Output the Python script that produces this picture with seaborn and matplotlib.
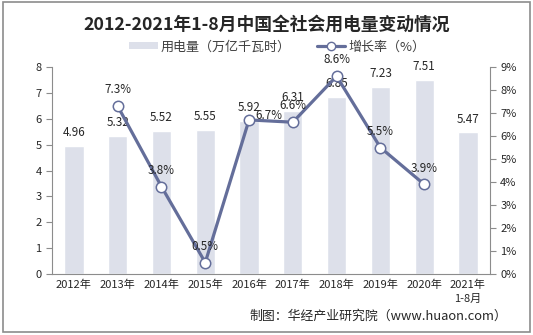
import matplotlib
matplotlib.use("Agg")
import matplotlib.pyplot as plt
import seaborn as sns
import pandas as pd
import numpy as np
from matplotlib.patches import Rectangle
from matplotlib.lines import Line2D

categories = ["2012年", "2013年", "2014年", "2015年", "2016年", "2017年",
              "2018年", "2019年", "2020年", "2021年\n1-8月"]
consumption = [4.96, 5.32, 5.52, 5.55, 5.92, 6.31, 6.85, 7.23, 7.51, 5.47]
growth_years = ["2013年", "2014年", "2015年", "2016年", "2017年", "2018年", "2019年", "2020年"]
growth = [7.3, 3.8, 0.5, 6.7, 6.6, 8.6, 5.5, 3.9]
left_ticks = [0, 1, 2, 3, 4, 5, 6, 7, 8]
right_ticks = [0, 1, 2, 3, 4, 5, 6, 7, 8, 9]

sns.set_style("white")
plt.rcParams['font.family'] = ['Noto Sans CJK SC', 'DejaVu Sans']

BAR = "#DDE0EA"
LINE = "#646E9A"
TXT = "#262626"
AX = "#8C8C8C"

fig = plt.figure(figsize=(5.33, 3.35), dpi=100)
ax = fig.add_axes([0.0976, 0.182, 0.8214, 0.618])

df = pd.DataFrame({"cat": categories, "val": consumption})
sns.barplot(data=df, x="cat", y="val", order=categories, color=BAR,
            width=0.44, ax=ax, saturation=1)
ax.set_xlim(-0.5, len(categories) - 0.5)
ax.set_ylim(0, 8)
ax.set_yticks(left_ticks)
ax.set_xlabel("")
ax.set_ylabel("")

for i, v in enumerate(consumption):
    ax.annotate(f"{v:.2f}", (i, v), xytext=(0, 5), textcoords="offset points",
                ha="center", va="bottom", fontsize=8.4, color=TXT)

ax2 = ax.twinx()
gx = [categories.index(y) for y in growth_years]
gdf = pd.DataFrame({"x": gx, "g": growth})
sns.lineplot(data=gdf, x="x", y="g", ax=ax2, color=LINE, linewidth=2.3,
             marker="o", markersize=7.5, markerfacecolor="white",
             markeredgecolor=LINE, markeredgewidth=1.1)
ax2.set_ylim(0, 9)
ax2.set_yticks(right_ticks)
ax2.set_yticklabels([f"{t}%" for t in right_ticks])
ax2.set_xlim(-0.5, len(categories) - 0.5)
ax2.set_xlabel("")
ax2.set_ylabel("")

for x, g, yr in zip(gx, growth, growth_years):
    if yr == "2016年":
        ax2.annotate(f"{g}%", (x, g), xytext=(14, 3), textcoords="offset points",
                     ha="center", va="center", fontsize=8.4, color=TXT)
    else:
        ax2.annotate(f"{g}%", (x, g), xytext=(0, 7), textcoords="offset points",
                     ha="center", va="bottom", fontsize=8.4, color=TXT)

# axes styling
for a in (ax, ax2):
    a.spines["top"].set_visible(False)
    a.spines["left"].set_color(AX)
    a.spines["right"].set_color(AX)
    a.spines["bottom"].set_color(AX)
ax.spines["right"].set_visible(False)
ax2.spines["left"].set_visible(False)
ax2.spines["bottom"].set_visible(False)

ax.set_xticks(range(len(categories)))
ax.set_xticklabels(categories, fontsize=8, color=TXT, linespacing=1.5)
ax.set_xticks(np.arange(-0.5, len(categories), 1.0), minor=True)
ax.tick_params(axis="x", which="major", length=0, pad=4)
ax.tick_params(axis="x", which="minor", length=4, color=AX, direction="out")
ax.tick_params(axis="y", length=4, color=AX, labelsize=8, labelcolor=TXT, left=True, direction="out")
ax2.tick_params(axis="y", length=4, color=AX, labelsize=8, labelcolor=TXT, right=True, direction="out")

# title
fig.text(0.5, 0.925, "2012-2021年1-8月中国全社会用电量变动情况", ha="center", va="center",
         fontsize=12.8, fontweight="bold", color=TXT)

# legend
handles = [Rectangle((0, 0), 1, 1, facecolor=BAR, edgecolor="none"),
           Line2D([0], [0], color=LINE, linewidth=2.3, marker="o", markersize=6,
                  markerfacecolor="white", markeredgecolor=LINE)]
fig.legend(handles, ["用电量（万亿千瓦时）", "增长率（%）"], loc="center",
           bbox_to_anchor=(0.52, 0.86), ncol=2, frameon=False, fontsize=9.4,
           handlelength=2.2, handleheight=0.5, columnspacing=2.0, handletextpad=0.2,
           labelcolor="#404040")

# source
fig.text(0.952, 0.057, "制图：华经产业研究院（www.huaon.com）", ha="right", va="center",
         fontsize=9.3, color=TXT)

# border
fig.patches.append(Rectangle((0.005, 0.008), 0.99, 0.985, transform=fig.transFigure,
                             fill=False, edgecolor="#8C8C8C", linewidth=1.2))

fig.savefig("out.png", dpi=100)
